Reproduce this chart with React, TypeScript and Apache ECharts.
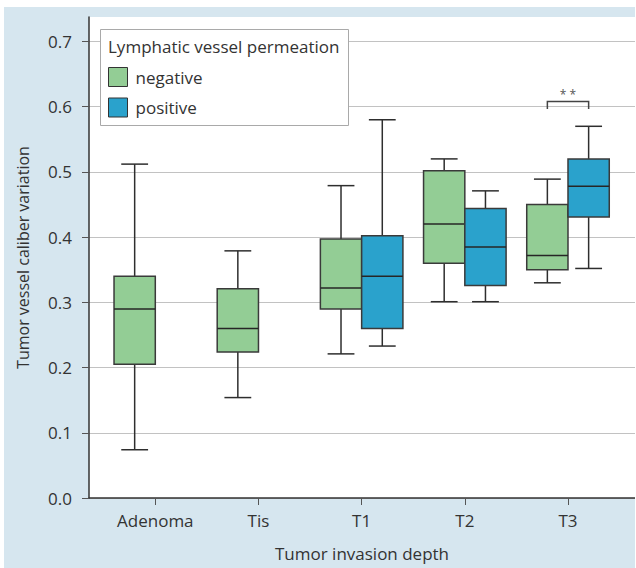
import React, { useEffect, useRef } from 'react';
import * as echarts from 'echarts';

// ---- data ----
const categories = ['Adenoma', 'Tis', 'T1', 'T2', 'T3'];
const yTickValues = [0, 0.1, 0.2, 0.3, 0.4, 0.5, 0.6, 0.7];
const xTickValues = [0, 1, 2, 3, 4];

// [category index, lower whisker, Q1, median, Q3, upper whisker]
const negativeStats = [
  [0, 0.074, 0.205, 0.29, 0.34, 0.512],
  [1, 0.154, 0.224, 0.26, 0.321, 0.379],
  [2, 0.221, 0.29, 0.322, 0.397, 0.479],
  [3, 0.301, 0.36, 0.42, 0.502, 0.52],
  [4, 0.33, 0.35, 0.372, 0.45, 0.489],
];
const positiveStats = [
  [2, 0.233, 0.26, 0.34, 0.402, 0.58],
  [3, 0.301, 0.326, 0.385, 0.444, 0.471],
  [4, 0.352, 0.431, 0.478, 0.52, 0.57],
];
// [category index, bracket top, bracket end]
const significance = [[4, 0.608, 0.5966]];
const significanceLabel = '* *';

const FONT = '"Open Sans", sans-serif';
const TEXT = '#333333';
const GREEN = '#93cd95';
const BLUE = '#2aa2cc';
const BG = '#d6e6ef';

const SIDE = 0.2;
const BOX_HALF = 0.2;
const CAP_HALF = 0.13;

function boxRender(side: number, fill: string) {
  return (params: any, api: any) => {
    const c = api.value(0) + side * SIDE;
    const [cx, yLow] = api.coord([c, api.value(1)]);
    const yQ1 = api.coord([c, api.value(2)])[1];
    const yMed = api.coord([c, api.value(3)])[1];
    const yQ3 = api.coord([c, api.value(4)])[1];
    const yHigh = api.coord([c, api.value(5)])[1];
    const hb = api.size([BOX_HALF, 0])[0];
    const hc = api.size([CAP_HALF, 0])[0];
    const ls = { stroke: '#2e2e2e', lineWidth: 1.5 };
    return {
      type: 'group',
      children: [
        { type: 'line', shape: { x1: cx, y1: yHigh, x2: cx, y2: yQ3 }, style: ls },
        { type: 'line', shape: { x1: cx, y1: yQ1, x2: cx, y2: yLow }, style: ls },
        { type: 'line', shape: { x1: cx - hc, y1: yHigh, x2: cx + hc, y2: yHigh }, style: ls },
        { type: 'line', shape: { x1: cx - hc, y1: yLow, x2: cx + hc, y2: yLow }, style: ls },
        {
          type: 'rect',
          shape: { x: cx - hb, y: yQ3, width: 2 * hb, height: yQ1 - yQ3 },
          style: { fill, stroke: '#3a3a3a', lineWidth: 1.5 },
        },
        { type: 'line', shape: { x1: cx - hb, y1: yMed, x2: cx + hb, y2: yMed }, style: { stroke: '#262626', lineWidth: 1.5 } },
      ],
    };
  };
}

function bracketRender(params: any, api: any) {
  const x = api.value(0);
  const [x1, yTop] = api.coord([x - SIDE, api.value(1)]);
  const x2 = api.coord([x + SIDE, api.value(1)])[0];
  const yEnd = api.coord([x, api.value(2)])[1];
  return {
    type: 'group',
    children: [
      {
        type: 'polyline',
        shape: { points: [[x1, yEnd], [x1, yTop], [x2, yTop], [x2, yEnd]] },
        style: { stroke: '#444', lineWidth: 1.5, fill: 'none' },
      },
      {
        type: 'text',
        x: (x1 + x2) / 2,
        y: yTop - 7,
        style: { text: significanceLabel, align: 'center', verticalAlign: 'middle', fontSize: 12, fontFamily: FONT, fill: '#555' },
      },
    ],
  };
}

export default function App() {
  const ref = useRef<HTMLDivElement>(null);
  useEffect(() => {
    if (!ref.current) return;
    const chart = echarts.init(ref.current, null, { renderer: 'svg' });
    chart.setOption({
      animation: false,
      backgroundColor: BG,
      grid: { left: 85, right: 0, top: 10, bottom: 70, show: true, backgroundColor: '#ffffff', borderWidth: 0 },
      xAxis: {
        type: 'value',
        min: -0.6426,
        max: 4.6494,
        name: 'Tumor invasion depth',
        nameLocation: 'middle',
        nameGap: 47,
        nameTextStyle: { fontFamily: FONT, fontSize: 17, color: TEXT },
        axisLine: { show: true, onZero: false, lineStyle: { color: '#333', width: 1.5 } },
        axisTick: { show: true, customValues: xTickValues, length: 7, lineStyle: { color: '#555', width: 1 } },
        axisLabel: {
          customValues: xTickValues,
          formatter: (v: number) => categories[Math.round(v)] ?? '',
          fontFamily: FONT,
          fontSize: 17,
          color: TEXT,
          margin: 14,
        },
        splitLine: { show: false },
      },
      yAxis: {
        type: 'value',
        min: 0,
        max: 0.7376,
        name: 'Tumor vessel caliber variation',
        nameLocation: 'middle',
        nameGap: 58,
        nameTextStyle: { fontFamily: FONT, fontSize: 16, color: TEXT },
        axisLine: { show: true, onZero: false, lineStyle: { color: '#333', width: 1.5 } },
        axisTick: { show: true, customValues: yTickValues, length: 7, lineStyle: { color: '#555', width: 1 } },
        axisLabel: {
          customValues: yTickValues,
          formatter: (v: number) => v.toFixed(1),
          fontFamily: FONT,
          fontSize: 17,
          color: TEXT,
          margin: 17,
        },
        splitLine: { show: true, lineStyle: { color: '#c2c2c2', width: 1 } },
      },
      legend: {
        data: ['negative', 'positive'],
        orient: 'vertical',
        left: 104,
        top: 60,
        padding: 0,
        itemWidth: 19,
        itemHeight: 19,
        itemGap: 10.5,
        icon: 'rect',
        itemStyle: { borderColor: '#333', borderWidth: 1 },
        textStyle: { fontFamily: FONT, fontSize: 17, color: TEXT, padding: [0, 0, 0, 3] },
        selectedMode: false,
        z: 20,
      },
      graphic: [
        {
          type: 'rect',
          shape: { x: 96.5, y: 22.5, width: 248, height: 96 },
          style: { fill: '#ffffff', stroke: '#a9a9a9', lineWidth: 1 },
          z: 10,
        },
        {
          type: 'text',
          x: 104,
          y: 39,
          style: { text: 'Lymphatic vessel permeation', fontFamily: FONT, fontSize: 17, fill: TEXT, verticalAlign: 'middle' },
          z: 21,
        },
      ],
      series: [
        {
          name: 'negative',
          type: 'custom',
          renderItem: boxRender(-1, GREEN),
          itemStyle: { color: GREEN },
          encode: { x: 0, y: [1, 2, 3, 4, 5] },
          data: negativeStats,
          z: 3,
        },
        {
          name: 'positive',
          type: 'custom',
          renderItem: boxRender(1, BLUE),
          itemStyle: { color: BLUE },
          encode: { x: 0, y: [1, 2, 3, 4, 5] },
          data: positiveStats,
          z: 3,
        },
        {
          name: 'significance',
          type: 'custom',
          renderItem: bracketRender,
          encode: { x: 0, y: [1, 2] },
          data: significance,
          z: 3,
        },
      ],
    });
    return () => chart.dispose();
  }, []);
  return (
    <div style={{ position: 'fixed', left: 0, top: 0, width: 636, height: 568, background: '#ffffff' }}>
      <div ref={ref} style={{ position: 'absolute', left: 4, top: 7, width: 631, height: 561 }} />
    </div>
  );
}
